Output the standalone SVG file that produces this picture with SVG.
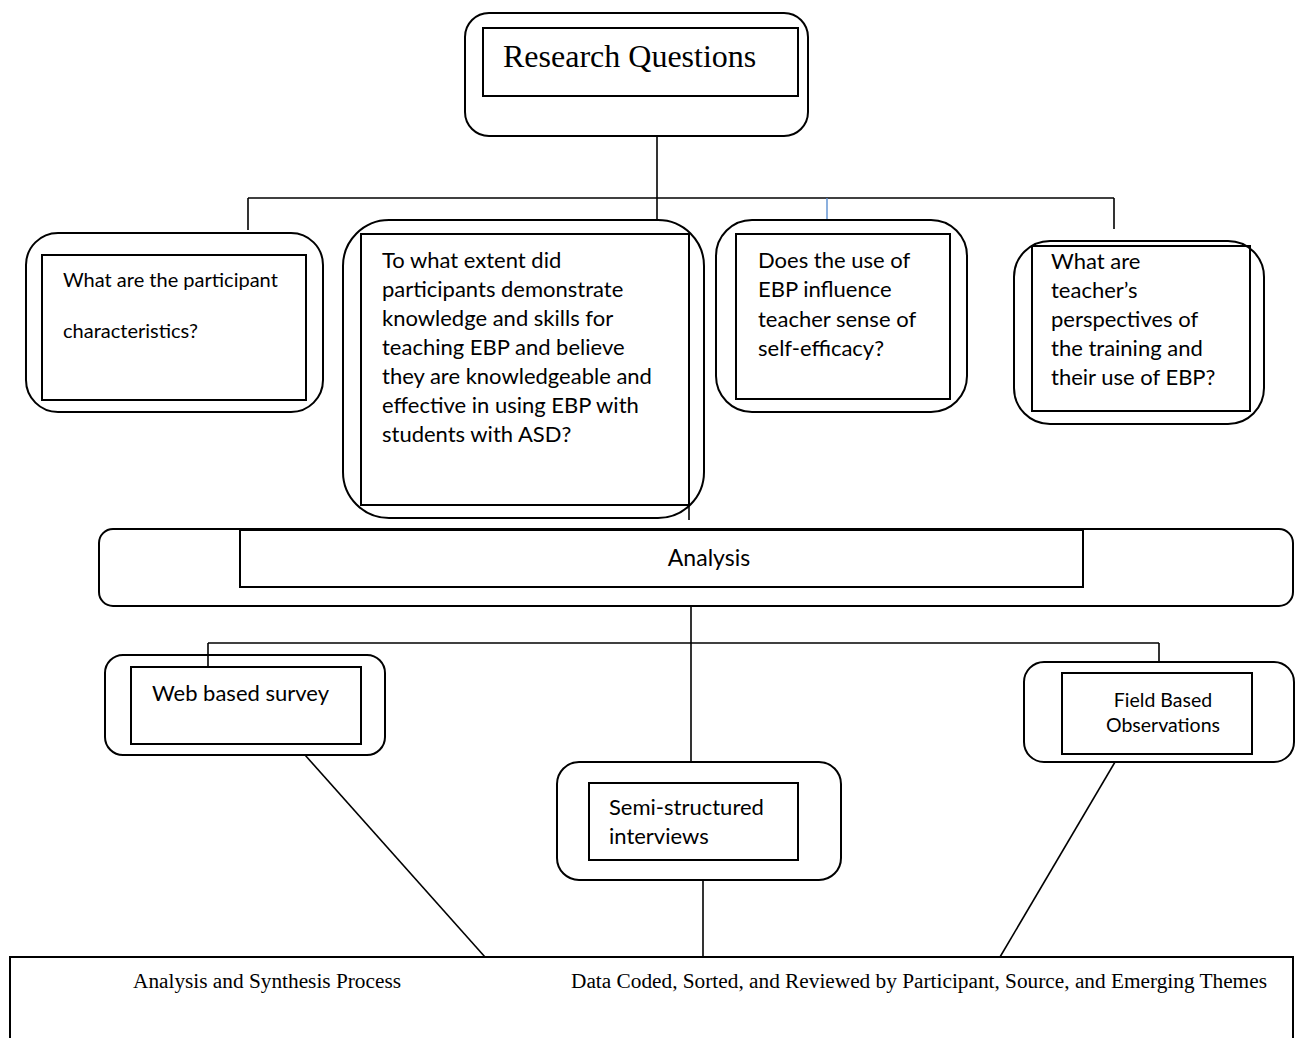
<svg xmlns="http://www.w3.org/2000/svg" width="1295" height="1038" viewBox="0 0 1295 1038">
<style>
.outer{fill:none;stroke:#000;stroke-width:2}
.inner{fill:none;stroke:#000;stroke-width:2}
.ln{stroke:#000;stroke-width:1.6;fill:none}
.c{font-family:Lato,"Open Sans","Liberation Sans",sans-serif;fill:#000}
.t{font-family:"Liberation Serif","Times New Roman",serif;fill:#000}
</style>
<rect width="1295" height="1038" fill="#fff"/>
<g id="connectors">
<line class="ln" x1="657" y1="136" x2="657" y2="221"/>
<line class="ln" x1="248" y1="198" x2="1114" y2="198"/>
<line class="ln" x1="248" y1="198" x2="248" y2="230"/>
<line x1="827" y1="198" x2="827" y2="219" stroke="#5b8fd1" stroke-width="1.4"/>
<line class="ln" x1="1114" y1="198" x2="1114" y2="229"/>
<line class="ln" x1="689" y1="505" x2="689" y2="520"/>
<line class="ln" x1="691" y1="606" x2="691" y2="762"/>
<line class="ln" x1="208" y1="643" x2="1159" y2="643"/>
<line class="ln" x1="208" y1="643" x2="208" y2="668"/>
<line class="ln" x1="1159" y1="643" x2="1159" y2="662"/>
<line class="ln" x1="305" y1="755" x2="485" y2="957"/>
<line class="ln" x1="703" y1="880" x2="703" y2="957"/>
<line class="ln" x1="1115" y1="762" x2="1000" y2="957"/>
</g>
<g id="research-questions">
<rect class="outer" x="465" y="13" width="343" height="123" rx="24"/>
<rect class="inner" x="483" y="28" width="315" height="68"/>
<text class="t" x="503" y="67" font-size="32">Research Questions</text>
</g>
<g id="q1">
<rect class="outer" x="26" y="233" width="297" height="179" rx="32"/>
<rect class="inner" x="42" y="255" width="264" height="145"/>
<text class="c" x="63" y="287" font-size="20">What are the participant</text>
<text class="c" x="63" y="338" font-size="20">characteristics?</text>
</g>
<g id="q2">
<rect class="outer" x="343" y="220" width="361" height="298" rx="46"/>
<rect class="inner" x="361" y="234" width="328" height="271"/>
<text class="c" font-size="22">
<tspan x="382" y="268">To what extent did</tspan>
<tspan x="382" y="297">participants demonstrate</tspan>
<tspan x="382" y="326">knowledge and skills for</tspan>
<tspan x="382" y="355">teaching EBP and believe</tspan>
<tspan x="382" y="384">they are knowledgeable and</tspan>
<tspan x="382" y="413">effective in using EBP with</tspan>
<tspan x="382" y="442">students with ASD?</tspan>
</text>
</g>
<g id="q3">
<rect class="outer" x="716" y="220" width="251" height="192" rx="36"/>
<rect class="inner" x="736" y="234" width="214" height="165"/>
<text class="c" font-size="22">
<tspan x="758" y="268">Does the use of</tspan>
<tspan x="758" y="297">EBP influence</tspan>
<tspan x="758" y="327">teacher sense of</tspan>
<tspan x="758" y="356">self-efficacy?</tspan>
</text>
</g>
<g id="q4">
<rect class="outer" x="1014" y="241" width="250" height="183" rx="36"/>
<rect class="inner" x="1032" y="246" width="218" height="165"/>
<text class="c" font-size="22">
<tspan x="1051" y="269">What are</tspan>
<tspan x="1051" y="298">teacher’s</tspan>
<tspan x="1051" y="327">perspectives of</tspan>
<tspan x="1051" y="356">the training and</tspan>
<tspan x="1051" y="385">their use of EBP?</tspan>
</text>
</g>
<g id="analysis">
<rect class="outer" x="99" y="529" width="1194" height="77" rx="14"/>
<rect class="inner" x="240" y="530" width="843" height="57"/>
<text class="c" x="709" y="566" font-size="23" text-anchor="middle">Analysis</text>
</g>
<g id="web-survey">
<rect class="outer" x="105" y="655" width="280" height="100" rx="18"/>
<rect class="inner" x="131" y="667" width="230" height="77"/>
<text class="c" x="152" y="701" font-size="22">Web based survey</text>
</g>
<g id="field-observations">
<rect class="outer" x="1024" y="662" width="270" height="100" rx="20"/>
<rect class="inner" x="1062" y="673" width="190" height="81"/>
<text class="c" x="1163" y="707" font-size="19.5" text-anchor="middle">Field Based</text>
<text class="c" x="1163" y="732" font-size="19.5" text-anchor="middle">Observations</text>
</g>
<g id="interviews">
<rect class="outer" x="557" y="762" width="284" height="118" rx="22"/>
<rect class="inner" x="589" y="783" width="209" height="77"/>
<text class="c" x="609" y="815" font-size="22">Semi-structured</text>
<text class="c" x="609" y="844" font-size="22">interviews</text>
</g>
<g id="synthesis">
<rect class="outer" x="10" y="957" width="1283" height="100"/>
<text class="t" x="133" y="988" font-size="21.3">Analysis and Synthesis Process</text>
<text class="t" x="571" y="988" font-size="21.3">Data Coded, Sorted, and Reviewed by Participant, Source, and Emerging Themes</text>
</g>
</svg>
